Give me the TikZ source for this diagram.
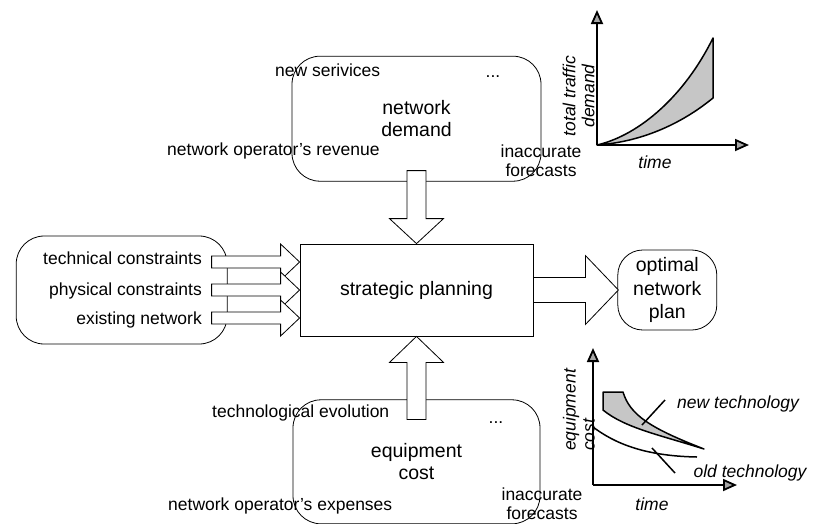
\documentclass[tikz,border=0pt]{standalone}
\usepackage{fontspec}
\setmainfont{Liberation Sans}
\usetikzlibrary{arrows.meta, positioning, calc}

\newcommand{\boxfont}{\fontsize{19.5}{22}\selectfont}
\newcommand{\notefont}{\fontsize{17.5}{19}\selectfont}

\begin{document}
\begin{tikzpicture}[x=1pt, y=-1pt,
    roundbox/.style={draw=black, line width=0.8pt, rounded corners=28pt, align=center, font=\boxfont, inner sep=0pt},
    mainbox/.style={draw=black, line width=0.8pt, align=center, font=\boxfont, minimum width=233pt, minimum height=92pt},
    note/.style={font=\notefont, inner sep=0pt},
    axislabel/.style={font=\notefont\itshape, inner sep=0pt},
    fatarrow/.style={draw=black, line width=0.8pt, fill=white, line join=miter},
    axis/.style={line width=1.8pt, -{Triangle[length=14pt, width=12pt, fill=gray!70]}},
    curve/.style={line width=1.5pt},
    band/.style={fill=gray!45, line width=1.5pt, line join=round}
]
    \fill[white] (0,0) rectangle (815,523);
    \useasboundingbox (0,0) rectangle (815,523);
    \clip (0,0) rectangle (815,523);

    % Central block and the boxes around it
    \node[mainbox] (strategic) at (416.5,290) {strategic planning};
    \node[roundbox, minimum width=249pt, minimum height=125pt, above=62pt of strategic] (demand) {network\\demand};
    \node[roundbox, minimum width=247pt, minimum height=124pt, below=63pt of strategic] (equipment) {equipment\\cost};
    \node[roundbox, minimum width=211pt, minimum height=108pt, left=72pt of strategic] (constraints) {};
    \node[roundbox, font=\fontsize{19.5}{23.5}\selectfont, rounded corners=25pt, minimum width=99pt, minimum height=80pt, right=84pt of strategic] (plan) {optimal\\network\\plan};

    % Labels of the demand box
    \node[note, anchor=base west] (services) at (275,76) {new serivices};
    \node[note, anchor=base] (moredemand) at (493,77) {...};
    \node[note, anchor=base west] (revenue) at (167,155) {network operator's revenue};
    \node[note, align=center] (forecastup) at (541,161) {inaccurate\\forecasts};

    % Labels of the cost box
    \node[note, anchor=base west] (evolution) at (212,417) {technological evolution};
    \node[note, anchor=base] (morecost) at (496,423) {...};
    \node[note, anchor=base west] (expenses) at (168,510) {network operator's expenses};
    \node[note, align=center] (forecastdown) at (542,504) {inaccurate\\forecasts};

    % Block arrows into and out of the planning
    \draw[fatarrow] (strategic.north) -- ++(27,-25) -- ++(-17.5,0) -- ++(0,-48) -- ++(-19,0) -- ++(0,48) -- ++(-17.5,0) -- cycle;
    \draw[fatarrow] (strategic.south) -- ++(27,26) -- ++(-17.5,0) -- ++(0,57) -- ++(-19,0) -- ++(0,-57) -- ++(-17.5,0) -- cycle;
    \foreach \dy in {-28,0,28} {
        \draw[fatarrow] ($(strategic.west)+(0,\dy)$) -- ++(-19,-18) -- ++(0,12) -- ++(-69,0) -- ++(0,12) -- ++(69,0) -- ++(0,12) -- cycle;
    }
    \draw[fatarrow] ($(strategic.east)+(0,-12.5)$) -- ++(52,0) -- ++(0,-22) -- ++(33,34.5) -- ++(-33,34.5) -- ++(0,-22) -- ++(-52,0) -- cycle;

    \node[note, anchor=base east] (technical) at (202,264) {technical constraints};
    \node[note, anchor=base east] (physical) at (202,295) {physical constraints};
    \node[note, anchor=base east] (existing) at (202,324) {existing network};

    % Traffic demand plot
    \draw[band] (597,145) .. controls (640,135) and (685,95) .. (713,38) -- (713,98) .. controls (680,125) and (640,142) .. (597,145) -- cycle;
    \draw[axis] (597,145) -- (597,10);
    \draw[axis] (597,145) -- (749,145);
    \node[axislabel, rotate=90, align=center] (traffic) at (578.5,96) {total traffic\\demand};
    \node[axislabel, anchor=base] (time1) at (655,168) {time};

    % Equipment cost plot
    \draw[band] (603,392) -- (623,392) .. controls (630,415) and (650,428) .. (704,449) .. controls (660,435) and (625,428) .. (603,410) -- cycle;
    \draw[curve] (593,427) .. controls (613,442) and (642,456) .. (697,457);
    \draw[curve] (642,425) -- (665,400);
    \draw[curve] (652,448) -- (675,473);
    \draw[axis] (593,485) -- (593,348);
    \draw[axis] (593,485) -- (737,485);
    \node[axislabel, rotate=90, align=left, anchor=south west] (costlabel) at (595,451) {equipment\\cost};
    \node[axislabel, anchor=base] (time2) at (652,510) {time};
    \node[axislabel, anchor=base] (newtech) at (738,408) {new technology};
    \node[axislabel, anchor=base] (oldtech) at (750,477) {old technology};
\end{tikzpicture}
\end{document}
